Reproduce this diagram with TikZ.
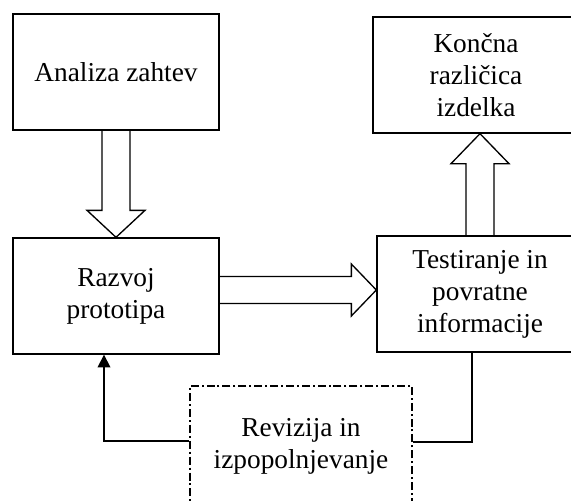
\documentclass[tikz,border=0pt]{standalone}
\usepackage{fontspec}
\setmainfont{Liberation Serif}
\usetikzlibrary{calc,arrows.meta}

\tikzset{every picture/.style={line width=0.75pt}}
\tikzset{
procbox/.style={draw, line width=1pt, minimum width=154.5pt, minimum height=87pt, align=center, inner sep=0pt, font=\fontsize{20.5}{24}\selectfont},
revbox/.style={procbox, minimum width=166.5pt, minimum height=90pt, dash pattern=on 6pt off 2.2pt on 1.5pt off 2.2pt},
blockarr/.style={draw, line width=1pt, line join=miter},
conn/.style={draw, line width=1pt}}

\begin{document}
\begin{tikzpicture}[x=0.75pt,y=0.75pt,yscale=-1,xscale=1]
\useasboundingbox (0,0) rectangle (571,500);
\clip (0,0) rectangle (571,500);

%Flowchart: Process
\node [procbox] (analiza) at (116,72) {Analiza zahtev};
%Flowchart: Process
\node [procbox] (razvoj) at (116,296) {Razvoj\\prototipa};
%Flowchart: Process
\node [procbox] (testiranje) at (480,294) {Testiranje in\\povratne\\informacije};
%Flowchart: Process
\node [procbox] (koncna) at (476,75) {Končna\\različica\\izdelka};
%Flowchart: Process (dash dot)
\node [revbox] (revizija) at (301,446) {Revizija in\\izpopolnjevanje};

%Block Arrow: down
\draw [blockarr] ($(analiza.south)+(-14,0)$) -- ($(razvoj.north)+(-14,-27)$) -- ++(-15,0) -- (razvoj.north) -- ++(29,-27) -- ++(-15,0) -- ($(analiza.south)+(14,0)$) ;
%Block Arrow: right
\coordinate (rtip) at ($(testiranje.west)+(0,-4)$);
\draw [blockarr] ($(razvoj.east |- rtip)+(0,-13.5)$) -- ($(rtip)+(-25,-13.5)$) -- ++(0,-12.5) -- (rtip) -- ++(-25,26) -- ++(0,-12.5) -- ($(razvoj.east |- rtip)+(0,13.5)$) ;
%Block Arrow: up
\coordinate (utip) at (testiranje.north |- koncna.south);
\draw [blockarr] ($(testiranje.north)+(-14,0)$) -- ($(utip)+(-14,30)$) -- ++(-15,0) -- (utip) -- ++(29,30) -- ++(-15,0) -- ($(testiranje.north)+(14,0)$) ;

%Straight Lines
\draw [conn] ($(testiranje.south)+(-8,0)$) |- ($(revizija.east)+(0,-4)$) ;
%Straight Lines
\draw [conn,-{Triangle[width=9.5pt,length=9.5pt]}] ($(revizija.west)+(0,-5)$) -| ($(razvoj.south)+(-12,0)$) ;

\end{tikzpicture}
\end{document}
